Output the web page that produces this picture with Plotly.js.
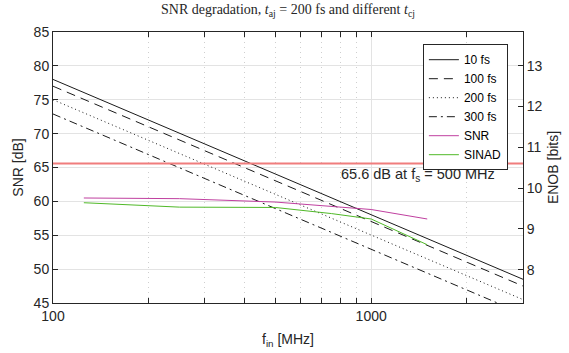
<!DOCTYPE html>
<html>
<head>
<meta charset="utf-8">
<script src="https://cdn.plot.ly/plotly-3.0.1.min.js"></script>
<style>
html,body{margin:0;padding:0;background:#fff;}
#chart{width:569px;height:353px;}
</style>
</head>
<body>
<div id="chart"></div>
<script>
// ---- data ----
const jitterFreq = [100, 3000];               // MHz, ends of the straight (log-x) jitter lines
const snr10fs  = [78.0, 48.5];
const snr100fs = [77.0, 47.5];
const snr200fs = [75.0, 45.5];
const snr300fs = [72.9, 43.4];

const measFreq  = [125, 250, 500, 750, 1000, 1500];  // MHz
const snrMeas   = [60.5, 60.4, 59.9, 59.3, 58.8, 57.4];
const sinadMeas = [59.8, 59.15, 59.1, 58.2, 57.4, 53.6];

const limitFreq = [100, 3000];
const limitSNR  = [65.6, 65.6];

const legendNames = ['10 fs', '100 fs', '200 fs', '300 fs', 'SNR', 'SINAD'];
const xTickVals = [100, 1000];
const xTickText = ['100', '1000'];
const xMinorVals = [200, 300, 400, 500, 600, 700, 800, 900, 2000];
const yTickVals = [45, 50, 55, 60, 65, 70, 75, 80, 85];
const enobTickVals = [8, 9, 10, 11, 12, 13];

// ---- styling ----
const axisCol = '#262626';
const lineCol = '#1a1a1a';
const sans = 'Liberation Sans, Arial, Helvetica, sans-serif';
const serif = 'Liberation Serif, Times New Roman, serif';

const snrLow = yTickVals[0], snrHigh = yTickVals[yTickVals.length - 1];
const toEnob = v => (v - 1.76) / 6.02;

const traces = [
  {x: jitterFreq, y: snr10fs,  name: legendNames[0], mode: 'lines', line: {color: lineCol, width: 1}},
  {x: jitterFreq, y: snr100fs, name: legendNames[1], mode: 'lines', line: {color: lineCol, width: 1, dash: '9px,6px'}},
  {x: jitterFreq, y: snr200fs, name: legendNames[2], mode: 'lines', line: {color: lineCol, width: 1, dash: '1px,3px'}},
  {x: jitterFreq, y: snr300fs, name: legendNames[3], mode: 'lines', line: {color: lineCol, width: 1, dash: '8px,4px,2px,4px'}},
  {x: measFreq, y: snrMeas,   name: legendNames[4], mode: 'lines', line: {color: 'rgb(192,64,160)', width: 1}},
  {x: measFreq, y: sinadMeas, name: legendNames[5], mode: 'lines', line: {color: 'rgb(80,185,40)', width: 1}},
  {x: limitFreq, y: limitSNR, mode: 'lines', showlegend: false, line: {color: 'rgb(240,125,125)', width: 2}},
  {x: [jitterFreq[0]], y: [toEnob(snr10fs[0])], yaxis: 'y2', mode: 'markers', opacity: 0,
   showlegend: false, hoverinfo: 'skip', marker: {size: 1}}
];

const layout = {
  width: 569, height: 353,
  margin: {l: 53, r: 46, t: 32, b: 50},
  paper_bgcolor: '#fff', plot_bgcolor: '#fff',
  font: {family: sans, size: 14, color: axisCol},
  showlegend: true,
  title: {
    text: 'SNR degradation, <i>t</i><sub>aj</sub> = 200 fs and different <i>t</i><sub>cj</sub>',
    font: {family: serif, size: 14, color: axisCol},
    x: 0.5, xref: 'paper', xanchor: 'center',
    y: 1, yref: 'container', yanchor: 'top', pad: {t: 4}
  },
  xaxis: {
    type: 'log',
    range: [Math.log10(jitterFreq[0]), Math.log10(jitterFreq[1])],
    tickmode: 'array', tickvals: xTickVals, ticktext: xTickText,
    ticks: 'inside', ticklen: 5, tickcolor: axisCol,
    showgrid: true, gridcolor: '#e3e3e3', gridwidth: 1,
    showline: true, linecolor: axisCol, linewidth: 1, mirror: 'allticks',
    zeroline: false,
    minor: {tickmode: 'array', tickvals: xMinorVals, ticks: 'inside', ticklen: 3, tickcolor: axisCol,
            showgrid: true, gridcolor: '#cfcfcf', gridwidth: 1, griddash: '1px,4px'},
    title: {text: 'f<sub>in</sub> [MHz]', font: {family: sans, size: 14, color: axisCol}, standoff: 11},
    tickfont: {family: sans, size: 14, color: axisCol}
  },
  yaxis: {
    range: [snrLow, snrHigh],
    tickmode: 'array', tickvals: yTickVals,
    ticks: 'inside', ticklen: 5, tickcolor: axisCol,
    showgrid: true, gridcolor: '#e3e3e3', gridwidth: 1,
    showline: true, linecolor: axisCol, linewidth: 1,
    zeroline: false,
    title: {text: 'SNR [dB]', font: {family: sans, size: 14, color: axisCol}, standoff: 6},
    tickfont: {family: sans, size: 14, color: axisCol}
  },
  yaxis2: {
    overlaying: 'y', side: 'right', anchor: 'x',
    range: [toEnob(snrLow), toEnob(snrHigh)],
    tickmode: 'array', tickvals: enobTickVals,
    ticks: 'inside', ticklen: 5, tickcolor: axisCol,
    showgrid: false, showline: true, linecolor: axisCol, linewidth: 1,
    zeroline: false,
    title: {text: 'ENOB [bits]', font: {family: sans, size: 14, color: axisCol}, standoff: 6},
    tickfont: {family: sans, size: 14, color: axisCol}
  },
  legend: {
    x: 0.787, y: 0.955, xanchor: 'left', yanchor: 'top',
    bgcolor: '#fff', bordercolor: axisCol, borderwidth: 1,
    font: {family: sans, size: 12, color: '#000'},
    tracegroupgap: 0
  },
  annotations: [{
    xref: 'paper', x: 0.608, xanchor: 'left',
    yref: 'y', y: limitSNR[0], yanchor: 'top', yshift: -1,
    text: '65.6 dB at f<sub>s</sub> = 500 MHz', showarrow: false,
    font: {family: sans, size: 14.5, color: axisCol}
  }]
};

Plotly.newPlot('chart', traces, layout, {displayModeBar: false, staticPlot: true});
</script>
</body>
</html>
